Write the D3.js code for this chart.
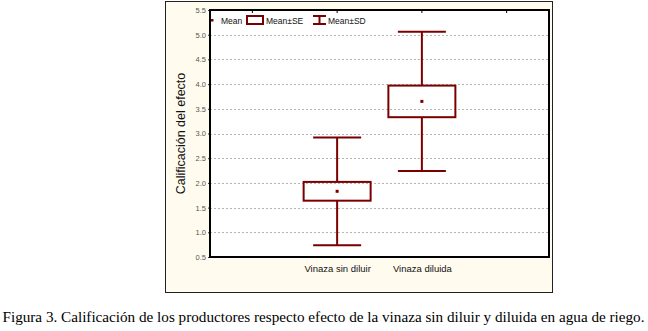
<!DOCTYPE html>
<html><head><meta charset="utf-8">
<script src="https://cdn.jsdelivr.net/npm/d3@7/dist/d3.min.js"></script>
<style>body{margin:0;background:#fff;} svg{display:block;}</style>
</head><body>
<svg id="chart" width="648" height="331"></svg>
<script>
const categories = ["Vinaza sin diluir", "Vinaza diluida"];
const means = [1.83, 3.65];
const se = [0.19, 0.32];
const sd = [1.09, 1.41];
const yTicks = [0.5, 1.0, 1.5, 2.0, 2.5, 3.0, 3.5, 4.0, 4.5, 5.0, 5.5];
const caption = "Figura 3. Calificación de los productores respecto efecto de la vinaza sin diluir y diluida en agua de riego.";
const yTitle = "Calificación del efecto";
const legendItems = ["Mean", "Mean±SE", "Mean±SD"];

const svg = d3.select("#chart");
const color = "#7a0000";
const plot = {l: 210, r: 549, t: 10, b: 257};

// outer frame
svg.append("rect").attr("x", 165.5).attr("y", 1.5).attr("width", 387).attr("height", 291)
  .attr("fill", "#fffcef").attr("stroke", "#222").attr("stroke-width", 1);
svg.append("rect").attr("x", plot.l).attr("y", plot.t).attr("width", plot.r - plot.l).attr("height", plot.b - plot.t)
  .attr("fill", "#fff");

const y = d3.scaleLinear().domain([0.5, 5.5]).range([plot.b, plot.t]);
const xSlots = ["s0", ...categories, "s3"];
const x = d3.scalePoint().domain(xSlots).range([plot.l, plot.r]).padding(0.5);

// gridlines
svg.append("g").selectAll("line").data(yTicks.slice(1, -1)).join("line")
  .attr("x1", plot.l).attr("x2", plot.r)
  .attr("y1", d => Math.round(y(d)) + 0.5).attr("y2", d => Math.round(y(d)) + 0.5)
  .attr("stroke", "#b5b5b5").attr("stroke-width", 1).attr("stroke-dasharray", "2,2");

// y axis
const yAxis = d3.axisLeft(y).tickValues(yTicks).tickFormat(d3.format(".1f")).tickSize(2).tickPadding(2);
const gy = svg.append("g").attr("transform", `translate(${plot.l},0)`).call(yAxis);
gy.select(".domain").remove();
gy.selectAll("text").attr("font-family", "Arial, Liberation Sans, sans-serif").attr("font-size", 7.5).attr("fill", "#555");
gy.selectAll("line").attr("stroke", "#333");

// x axis labels
const xAxis = d3.axisBottom(x).tickValues(categories).tickSize(0).tickPadding(8);
const gx = svg.append("g").attr("transform", `translate(0,${plot.b})`).call(xAxis);
gx.select(".domain").remove();
gx.selectAll("text").attr("font-family", "Arial, Liberation Sans, sans-serif").attr("font-size", 9.5).attr("fill", "#111");

// top ticks
svg.append("g").selectAll("line").data(xSlots).join("line")
  .attr("x1", d => x(d)).attr("x2", d => x(d)).attr("y1", plot.t).attr("y2", plot.t + 3)
  .attr("stroke", "#000").attr("stroke-width", 1);

// y title
svg.append("text").attr("transform", `translate(185,${(plot.t + plot.b) / 2}) rotate(-90)`)
  .attr("text-anchor", "middle").attr("font-family", "Arial, Liberation Sans, sans-serif")
  .attr("font-size", 12.5).attr("fill", "#111").text(yTitle);

// boxes
const boxW = 67, capW = 48;
const g = svg.append("g");
categories.forEach((c, i) => {
  const cx = x(c);
  g.append("line").attr("x1", cx).attr("x2", cx).attr("y1", y(means[i] + sd[i])).attr("y2", y(means[i] + se[i]))
    .attr("stroke", color).attr("stroke-width", 2);
  g.append("line").attr("x1", cx).attr("x2", cx).attr("y1", y(means[i] - se[i])).attr("y2", y(means[i] - sd[i]))
    .attr("stroke", color).attr("stroke-width", 2);
  [means[i] + sd[i], means[i] - sd[i]].forEach(v => {
    g.append("line").attr("x1", cx - capW / 2).attr("x2", cx + capW / 2).attr("y1", y(v)).attr("y2", y(v))
      .attr("stroke", color).attr("stroke-width", 2);
  });
  g.append("rect").attr("x", cx - boxW / 2).attr("y", y(means[i] + se[i]))
    .attr("width", boxW).attr("height", y(means[i] - se[i]) - y(means[i] + se[i]))
    .attr("fill", "none").attr("stroke", color).attr("stroke-width", 2);
  g.append("rect").attr("x", cx - 1.5).attr("y", y(means[i]) - 1.5).attr("width", 3).attr("height", 3).attr("fill", color);
});

// plot frame
svg.append("rect").attr("x", plot.l).attr("y", plot.t).attr("width", plot.r - plot.l).attr("height", plot.b - plot.t)
  .attr("fill", "none").attr("stroke", "#000").attr("stroke-width", 2);

// legend
const lg = svg.append("g").attr("font-family", "Arial, Liberation Sans, sans-serif").attr("font-size", 8.5).attr("fill", "#111");
lg.append("rect").attr("x", 211).attr("y", 19).attr("width", 2.5).attr("height", 2.5).attr("fill", color);
lg.append("text").attr("x", 221).attr("y", 23.5).text(legendItems[0]);
lg.append("rect").attr("x", 247).attr("y", 16).attr("width", 16).attr("height", 8)
  .attr("fill", "none").attr("stroke", color).attr("stroke-width", 2);
lg.append("text").attr("x", 266).attr("y", 23.5).text(legendItems[1]);
lg.append("path").attr("d", "M313,16H326M319.5,16V24M313,24H326").attr("fill", "none").attr("stroke", color).attr("stroke-width", 2);
lg.append("text").attr("x", 328).attr("y", 23.5).text(legendItems[2]);

// caption
svg.append("text").attr("x", 323.5).attr("y", 322).attr("text-anchor", "middle")
  .attr("font-family", "Liberation Serif, Times New Roman, serif").attr("font-size", 15).attr("fill", "#000")
  .attr("textLength", 642).attr("lengthAdjust", "spacingAndGlyphs")
  .text(caption);
</script>
</body></html>
